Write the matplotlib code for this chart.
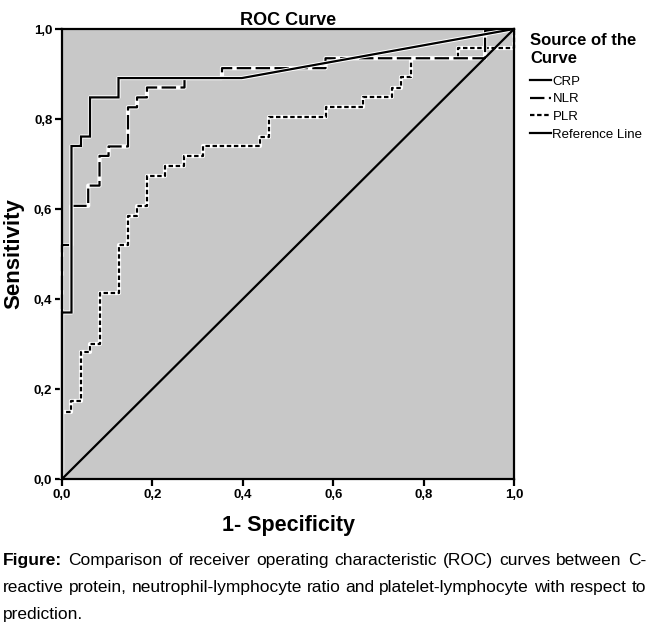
import matplotlib
matplotlib.use("Agg")
import matplotlib.pyplot as plt
from matplotlib.lines import Line2D

# ---------------- data ----------------
crp_fpr = [0.0, 0.0, 0.021, 0.021, 0.042, 0.042, 0.062, 0.062, 0.125, 0.125, 0.398, 1.0]
crp_tpr = [0.0, 0.370, 0.370, 0.740, 0.740, 0.761, 0.761, 0.848, 0.848, 0.891, 0.891, 1.0]

nlr_fpr = [0.0, 0.0, 0.021, 0.021, 0.058, 0.058, 0.083, 0.083, 0.103, 0.103, 0.146, 0.146,
           0.166, 0.166, 0.188, 0.188, 0.271, 0.271, 0.354, 0.354, 0.583, 0.583, 0.936, 0.936, 1.0]
nlr_tpr = [0.0, 0.520, 0.520, 0.607, 0.607, 0.652, 0.652, 0.718, 0.718, 0.739, 0.739, 0.826,
           0.826, 0.848, 0.848, 0.870, 0.870, 0.891, 0.891, 0.913, 0.913, 0.935, 0.935, 0.996, 1.0]

plr_fpr = [0.0, 0.0, 0.021, 0.021, 0.042, 0.042, 0.062, 0.062, 0.084, 0.084, 0.126, 0.126,
           0.146, 0.146, 0.166, 0.166, 0.188, 0.188, 0.228, 0.228, 0.270, 0.270, 0.312, 0.312,
           0.437, 0.437, 0.457, 0.457, 0.583, 0.583, 0.667, 0.667, 0.731, 0.731, 0.749, 0.749,
           0.772, 0.772, 0.875, 0.875, 1.0, 1.0]
plr_tpr = [0.0, 0.150, 0.150, 0.173, 0.173, 0.283, 0.283, 0.301, 0.301, 0.413, 0.413, 0.521,
           0.521, 0.585, 0.585, 0.607, 0.607, 0.674, 0.674, 0.696, 0.696, 0.718, 0.718, 0.740,
           0.740, 0.761, 0.761, 0.804, 0.804, 0.826, 0.826, 0.850, 0.850, 0.870, 0.870, 0.893,
           0.893, 0.935, 0.935, 0.957, 0.957, 1.0]

ref_x = [0.0, 1.0]
ref_y = [0.0, 1.0]

tick_values = [0.0, 0.2, 0.4, 0.6, 0.8, 1.0]
tick_labels = ["0,0", "0,2", "0,4", "0,6", "0,8", "1,0"]

series_names = ["CRP", "NLR", "PLR", "Reference Line"]

title_text = "ROC Curve"
xlabel_text = "1- Specificity"
ylabel_text = "Sensitivity"
legend_title = "Source of the\nCurve"

caption_lines = [
    ["Figure:", "Comparison", "of", "receiver", "operating", "characteristic", "(ROC)",
     "curves", "between", "C-"],
    ["reactive", "protein,", "neutrophil-lymphocyte", "ratio", "and", "platelet-lymphocyte",
     "with", "respect", "to"],
    ["prediction."],
]

# ---------------- figure ----------------
W, H = 650, 633
fig = plt.figure(figsize=(W / 100, H / 100), dpi=100)
fig.patch.set_facecolor("white")

ax_l, ax_r, ax_t, ax_b = 62, 514, 29, 479
ax = fig.add_axes([ax_l / W, 1 - ax_b / H, (ax_r - ax_l) / W, (ax_b - ax_t) / H])
ax.set_facecolor("#c8c8c8")
ax.set_xlim(0, 1)
ax.set_ylim(0, 1)

LW = 1.6
HALO = 3.0

styles = {
    "CRP": dict(ls="-"),
    "NLR": dict(ls=(0, (6.5, 2))),
    "PLR": dict(ls=(0, (2, 1.2))),
    "Reference Line": dict(ls="-"),
}

def draw(x, y, name, z):
    ax.plot(x, y, color="white", lw=HALO, solid_capstyle="butt", zorder=z, clip_on=False)
    ax.plot(x, y, color="black", lw=LW, zorder=z + 0.5, clip_on=False,
            dash_capstyle="butt", solid_joinstyle="miter", **styles[name])

draw(plr_fpr, plr_tpr, "PLR", 2)
draw(nlr_fpr, nlr_tpr, "NLR", 3)
draw(crp_fpr, crp_tpr, "CRP", 4)
ax.plot(ref_x, ref_y, color="black", lw=LW, zorder=5)

for s in ax.spines.values():
    s.set_linewidth(1.6)
    s.set_zorder(6)

ax.set_xticks(tick_values)
ax.set_xticklabels(tick_labels)
ax.set_yticks(tick_values)
ax.set_yticklabels(tick_labels)
ax.tick_params(direction="out", length=5, width=1.6, pad=2)
for lab in ax.get_xticklabels() + ax.get_yticklabels():
    lab.set_fontfamily("Liberation Sans")
    lab.set_fontsize(9.5)
    lab.set_fontweight("bold")

ax.set_title(title_text, fontfamily="Liberation Sans", fontweight="bold", fontsize=13, pad=3)
ax.set_xlabel(xlabel_text, fontfamily="Liberation Sans", fontweight="bold", fontsize=15.5, labelpad=10)
ax.set_ylabel(ylabel_text, fontfamily="Liberation Sans", fontweight="bold", fontsize=16, labelpad=7)

# legend
handles = [Line2D([0], [0], color="black", lw=LW, **styles[n]) for n in series_names]
leg = fig.legend(handles, series_names, loc="upper left",
                 bbox_to_anchor=(530 / W, 1 - 33 / H), frameon=False,
                 handlelength=1.6, handletextpad=0.1, labelspacing=0.4,
                 prop=dict(family="Liberation Sans", size=9.5),
                 title=legend_title, alignment="left", borderaxespad=0, borderpad=0)
leg.get_title().set_fontfamily("Liberation Sans")
leg.get_title().set_fontweight("bold")
leg.get_title().set_fontsize(12)
leg.get_title().set_linespacing(1.25)
leg._legend_box.sep = 7

# caption (justified, word by word)
fig.canvas.draw()
renderer = fig.canvas.get_renderer()
cap_family = ["Liberation Sans", "DejaVu Sans"]
left_px, right_px = 3, 646
baselines = [565, 592, 619]
min_gap = 4.0

def make_words(words, li, size):
    out = []
    for wi, w in enumerate(words):
        bold = (li == 0 and wi == 0)
        out.append(fig.text(0, 0, w, fontsize=size, family=cap_family,
                            fontweight="bold" if bold else "normal",
                            va="baseline", ha="left"))
    return out

cap_size = 13.0
while cap_size > 8:
    ok = True
    for li, words in enumerate(caption_lines[:2]):
        ts = make_words(words, li, cap_size)
        tot = sum(t.get_window_extent(renderer).width for t in ts)
        for t in ts:
            t.remove()
        if tot + min_gap * (len(words) - 1) > right_px - left_px:
            ok = False
    if ok:
        break
    cap_size -= 0.25

for li, words in enumerate(caption_lines):
    texts = make_words(words, li, cap_size)
    widths = [t.get_window_extent(renderer).width for t in texts]
    if li < len(caption_lines) - 1 and len(words) > 1:
        gap = (right_px - left_px - sum(widths)) / (len(words) - 1)
    else:
        gap = min_gap
    x = left_px
    for t, wdt in zip(texts, widths):
        t.set_position((x / W, 1 - baselines[li] / H))
        x += wdt + gap

fig.savefig("out.png", dpi=100)
